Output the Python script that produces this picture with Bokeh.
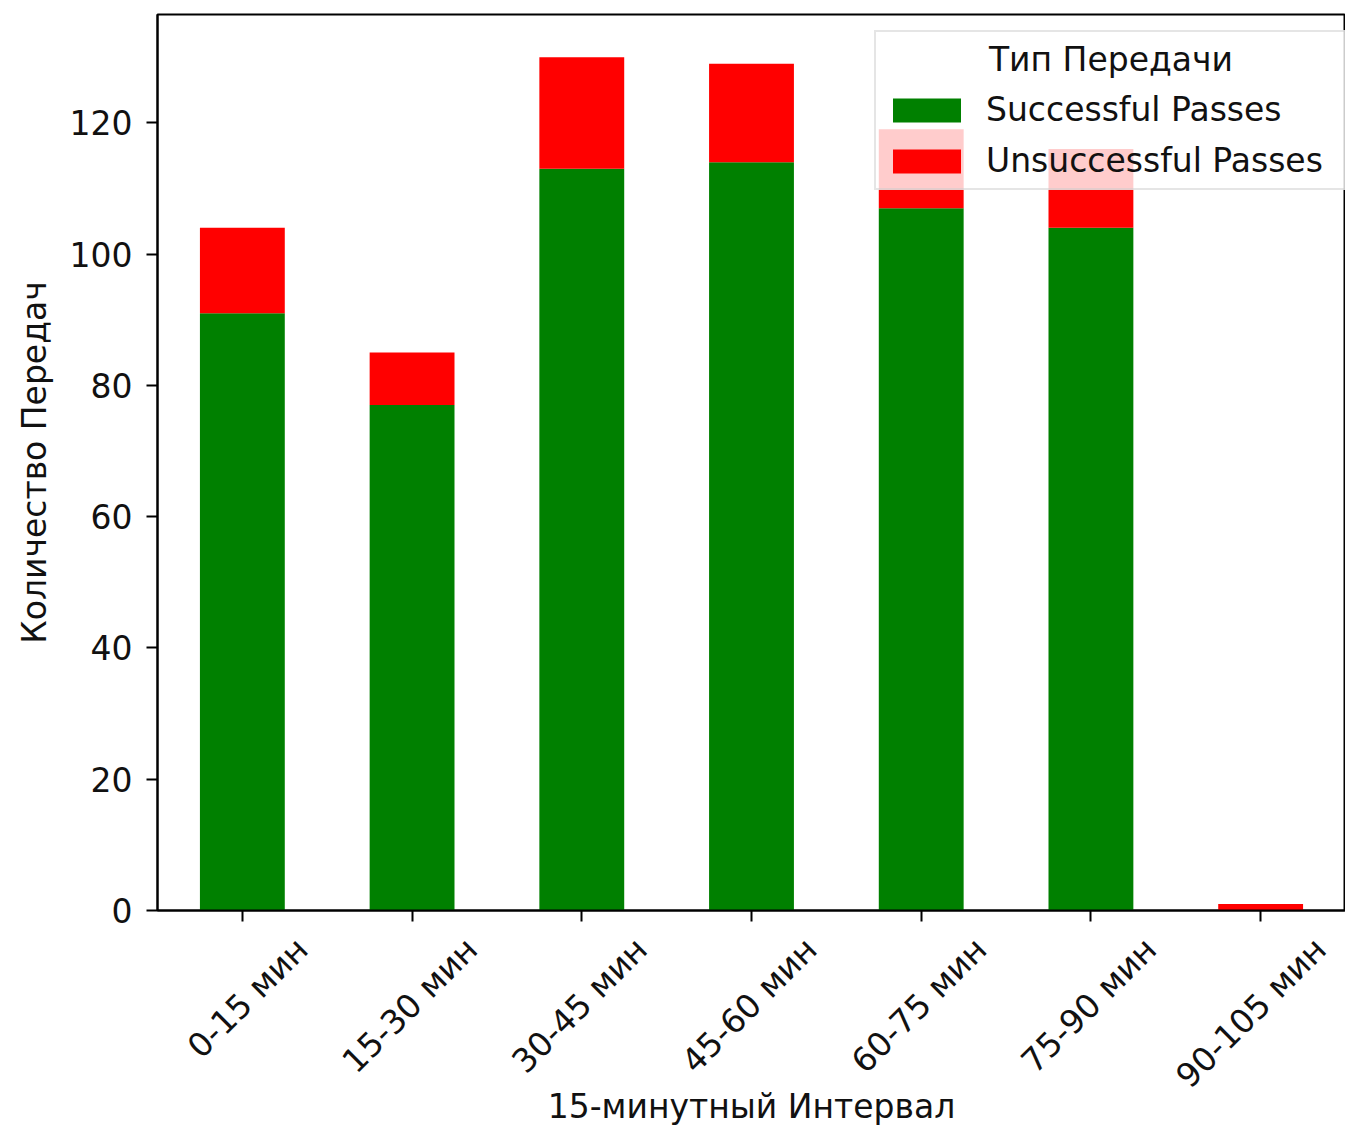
import math
from bokeh.plotting import figure
from bokeh.models import (ColumnDataSource, Range1d, FixedTicker, LinearAxis)
from bokeh.embed import file_html
from bokeh.resources import INLINE

# ---- data ----
intervals = ["0-15 мин", "15-30 мин", "30-45 мин", "45-60 мин",
             "60-75 мин", "75-90 мин", "90-105 мин"]
successful = [91, 77, 113, 114, 107, 104, 0]
unsuccessful = [13, 8, 17, 15, 12, 12, 1]
series = ["Successful Passes", "Unsuccessful Passes"]
colors = ["#008000", "#ff0000"]
legend_title = "Тип Передачи"
x_label = "15-минутный Интервал"
y_label = "Количество Передач"
y_ticks = [0, 20, 40, 60, 80, 100, 120]

FONT = "DejaVu Sans"
FS = "33px"
TXT = "#111111"

idx = list(range(len(intervals)))
totals = [s + u for s, u in zip(successful, unsuccessful)]
source = ColumnDataSource(dict(pos=idx, interval=intervals,
                               **{series[0]: successful, series[1]: unsuccessful}))

p = figure(width=1345, height=1129,
           x_range=Range1d(-0.5, len(intervals) - 0.5),
           y_range=Range1d(0, max(totals) * 1.05),
           output_backend="svg", toolbar_location=None,
           min_border_left=157, min_border_right=0,
           min_border_top=14, min_border_bottom=219)

p.vbar_stack(series, x="pos", width=0.5, color=colors, source=source,
             line_width=0, legend_label=series)

p.xgrid.visible = False
p.ygrid.visible = False
p.outline_line_color = "black"
p.outline_line_width = 2
p.background_fill_color = "white"
p.border_fill_color = "white"

# tick-mark axis (labels suppressed)
xa = p.xaxis[0]
xa.ticker = FixedTicker(ticks=idx)
# label axis: category names centred under the ticks as in the original
shift = 0.35
p.extra_x_ranges = {"labels": Range1d(-0.5 - shift, len(intervals) - 0.5 - shift)}
lab = LinearAxis(x_range_name="labels",
                 ticker=FixedTicker(ticks=idx),
                 major_label_overrides={i: n for i, n in zip(idx, intervals)})
p.add_layout(lab, "below")

for ax in (xa, p.yaxis[0], lab):
    ax.axis_line_color = "black"
    ax.axis_line_width = 2
    ax.major_tick_line_color = "black"
    ax.major_tick_line_width = 2
    ax.major_tick_out = 11
    ax.major_tick_in = 0
    ax.minor_tick_line_color = None
    ax.major_label_text_font = FONT
    ax.major_label_text_font_size = FS
    ax.major_label_text_color = TXT
    ax.axis_label_text_font = FONT
    ax.axis_label_text_font_size = FS
    ax.axis_label_text_font_style = "normal"
    ax.axis_label_text_color = TXT

xa.major_label_text_color = None
xa.major_label_text_font_size = "1px"
xa.major_label_standoff = 0

lab.axis_line_color = None
lab.major_tick_line_color = None
lab.major_tick_out = 0
lab.major_label_orientation = math.pi / 4
lab.major_label_standoff = 22
lab.axis_label = x_label
lab.axis_label_standoff = -25

p.yaxis.ticker = FixedTicker(ticks=y_ticks)
p.yaxis.major_label_standoff = 14
p.yaxis.axis_label = y_label
p.yaxis.axis_label_standoff = 13

lg = p.legend[0]
lg.title = "\u00a0" * 10 + legend_title
lg.title_text_font = FONT
lg.title_text_font_size = FS
lg.title_text_font_style = "normal"
lg.title_text_color = TXT
lg.title_standoff = 11
lg.label_text_font = FONT
lg.label_text_font_size = FS
lg.label_text_color = TXT
lg.glyph_width = 85
lg.glyph_height = 30
lg.label_standoff = 17
lg.label_width = 350
lg.spacing = 12
lg.padding = 8
lg.margin = 0
lg.location = (717, 720)
lg.border_line_color = "#cccccc"
lg.border_line_width = 2
lg.background_fill_alpha = 0.8

open("out.html", "w").write(file_html(p, INLINE))
